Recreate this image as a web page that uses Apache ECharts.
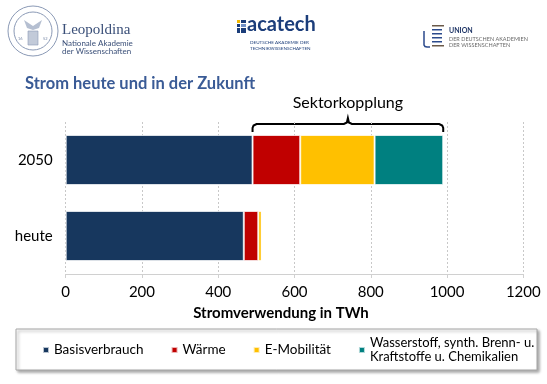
<!DOCTYPE html>
<html><head><meta charset="utf-8">
<script src="https://cdn.jsdelivr.net/npm/echarts@6/dist/echarts.min.js"></script>
<style>html,body{margin:0;padding:0;background:#fff}#c{width:547px;height:384px}</style>
</head><body><div id="c"></div>
<script>
var categories = ['heute', '2050'];
var seriesNames = ['Basisverbrauch', 'Wärme', 'E-Mobilität', 'Wasserstoff, synth. Brenn- u. Kraftstoffe u. Chemikalien'];
var legendLabels = ['Basisverbrauch', 'Wärme', 'E-Mobilität', 'Wasserstoff, synth. Brenn- u.\nKraftstoffe u. Chemikalien'];
var basisverbrauch = [467, 490];
var waerme = [38, 125];
var eMobilitaet = [9, 195];
var wasserstoff = [0, 180];
var xTicks = [0, 200, 400, 600, 800, 1000, 1200];
var colors = ['#17375e', '#c00000', '#ffc000', '#008080'];
var FONT = 'Lato, "Open Sans", sans-serif';

var values = [basisverbrauch, waerme, eMobilitaet, wasserstoff];
var series = seriesNames.map(function (n, i) {
  return {
    name: n, type: 'bar', stack: 'total', barWidth: 50,
    data: values[i],
    itemStyle: { color: colors[i], borderColor: 'rgba(255,255,255,0.7)', borderWidth: 1 }
  };
});

var chart = echarts.init(document.getElementById('c'), null, { renderer: 'canvas' });

var logos = [
  // Leopoldina seal
  { type: 'circle', shape: { cx: 33, cy: 31, r: 25 }, style: { fill: 'none', stroke: '#8a99b5', lineWidth: 1 } },
  { type: 'circle', shape: { cx: 33, cy: 31, r: 19 }, style: { fill: 'none', stroke: '#8a99b5', lineWidth: 1 } },
  { type: 'polygon', shape: { points: [[24, 20], [33, 26], [42, 20], [39, 28], [33, 30], [27, 28]] }, style: { fill: '#b5bfd1' } },
  { type: 'rect', shape: { x: 28, y: 31, width: 10, height: 14 }, style: { fill: '#c2cad9', stroke: '#8a99b5', lineWidth: 0.6 } },
  { type: 'text', style: { x: 18, y: 37, text: '16', fontSize: 4, fill: '#7a8aa8', fontFamily: FONT } },
  { type: 'text', style: { x: 43, y: 37, text: '52', fontSize: 4, fill: '#7a8aa8', fontFamily: FONT } },
  { type: 'text', style: { x: 62, y: 23, text: 'Leopoldina', fontSize: 15, fill: '#3a4f78', fontFamily: '"Liberation Serif", serif' } },
  { type: 'text', style: { x: 62, y: 39, text: 'Nationale Akademie', fontSize: 8, fill: '#3a4f78', fontFamily: FONT } },
  { type: 'text', style: { x: 62, y: 47, text: 'der Wissenschaften', fontSize: 8, fill: '#3a4f78', fontFamily: FONT } },
  // acatech
  { type: 'rect', shape: { x: 237, y: 20, width: 3, height: 3 }, style: { fill: '#f2b800' } },
  { type: 'rect', shape: { x: 241, y: 20, width: 5, height: 3 }, style: { fill: '#1b3d7a' } },
  { type: 'rect', shape: { x: 237, y: 24, width: 3, height: 3 }, style: { fill: '#1b3d7a' } },
  { type: 'rect', shape: { x: 241, y: 24, width: 5, height: 3 }, style: { fill: '#6f8fc6' } },
  { type: 'rect', shape: { x: 237, y: 28, width: 3, height: 5 }, style: { fill: '#1b3d7a' } },
  { type: 'rect', shape: { x: 241, y: 28, width: 5, height: 5 }, style: { fill: '#1b3d7a' } },
  { type: 'text', style: { x: 247, y: 15, text: 'acatech', fontSize: 20, fill: '#1b3d7a', fontFamily: FONT, fontWeight: 'bold' } },
  { type: 'text', style: { x: 250, y: 40, text: 'DEUTSCHE AKADEMIE DER', fontSize: 4.6, fill: '#1b3d7a', fontFamily: FONT } },
  { type: 'text', style: { x: 250, y: 46, text: 'TECHNIKWISSENSCHAFTEN', fontSize: 4.6, fill: '#1b3d7a', fontFamily: FONT } },
  // Union
  { type: 'polyline', shape: { points: [[424, 31], [424, 45], [425, 46.5], [427, 47], [430, 47]] }, style: { fill: 'none', stroke: '#2b4a8c', lineWidth: 1.5 } },
  { type: 'rect', shape: { x: 432, y: 25, width: 12, height: 1.5 }, style: { fill: '#6b5a4a' } },
  { type: 'rect', shape: { x: 432, y: 29, width: 10, height: 1.5 }, style: { fill: '#2b4a8c' } },
  { type: 'rect', shape: { x: 432, y: 33, width: 10, height: 1.5 }, style: { fill: '#2b4a8c' } },
  { type: 'rect', shape: { x: 432, y: 37, width: 10, height: 1.5 }, style: { fill: '#2b4a8c' } },
  { type: 'rect', shape: { x: 432, y: 41, width: 10, height: 1.5 }, style: { fill: '#2b4a8c' } },
  { type: 'rect', shape: { x: 432, y: 45, width: 12, height: 1.5 }, style: { fill: '#6b5a4a' } },
  { type: 'text', style: { x: 449, y: 27, text: 'UNION', fontSize: 7, fill: '#1f3566', fontFamily: FONT, fontWeight: 'bold' } },
  { type: 'text', style: { x: 449, y: 36, text: 'DER DEUTSCHEN AKADEMIEN', fontSize: 5.5, fill: '#6a6a6a', fontFamily: FONT } },
  { type: 'text', style: { x: 449, y: 42, text: 'DER WISSENSCHAFTEN', fontSize: 5.5, fill: '#6a6a6a', fontFamily: FONT } },
  // title
  { type: 'text', style: { x: 25, y: 75, text: 'Strom heute und in der Zukunft', fontSize: 16.5, fontWeight: 'bold', fill: '#3a5b96', fontFamily: FONT } },
  // legend box
  { type: 'rect', z: -1, shape: { x: 16, y: 329, width: 521, height: 41 }, style: { fill: '#fff', stroke: '#a6a6a6', lineWidth: 1, shadowBlur: 3, shadowOffsetX: 2, shadowOffsetY: 2, shadowColor: 'rgba(0,0,0,0.35)' } }
];

var option = {
  animation: false,
  color: colors,
  textStyle: { fontFamily: FONT },
  grid: { left: 65.7, right: 23.7, top: 122, bottom: 110, containLabel: false },
  xAxis: {
    type: 'value', min: xTicks[0], max: xTicks[xTicks.length - 1], interval: xTicks[1] - xTicks[0],
    name: 'Stromverwendung in TWh', nameLocation: 'middle', nameGap: 32,
    nameTextStyle: { fontSize: 15, fontWeight: 'bold', color: '#000', fontFamily: FONT, padding: [0, 27, 0, 0] },
    axisLine: { show: true, lineStyle: { color: '#d0d0d0' } },
    axisTick: { show: true, length: 4, lineStyle: { color: '#d0d0d0' } },
    axisLabel: { fontSize: 15, color: '#000', margin: 11, fontFamily: FONT, formatter: function (v) { return String(v); } },
    splitLine: { show: true, lineStyle: { color: '#c8c8c8', type: [2, 2] } }
  },
  yAxis: {
    type: 'category', data: categories,
    axisLine: { show: false }, axisTick: { show: false },
    axisLabel: { fontSize: 15, color: '#000', margin: 13, fontFamily: FONT }
  },
  legend: {
    left: 37, top: 331, width: 500, itemWidth: 6, itemHeight: 6, itemGap: 27, icon: 'rect',
    textStyle: {
      fontSize: 13.5, color: '#000', fontFamily: FONT, lineHeight: 14,
      rich: { s: { fontSize: 13, lineHeight: 14, fontFamily: FONT, color: '#000' } }
    },
    formatter: function (name) {
      var i = seriesNames.indexOf(name);
      var t = legendLabels[i];
      return t.indexOf('\n') >= 0 ? t.split('\n').map(function (l) { return '{s|' + l + '}'; }).join('\n') : t;
    },
    data: seriesNames
  },
  graphic: logos,
  series: series
};
chart.setOption(option);

// bracket over the Sektorkopplung segments of 2050
var yIdx = categories.indexOf('2050');
var startVal = basisverbrauch[yIdx];
var endVal = basisverbrauch[yIdx] + waerme[yIdx] + eMobilitaet[yIdx] + wasserstoff[yIdx];
var x1 = chart.convertToPixel({ xAxisIndex: 0 }, startVal);
var x2 = chart.convertToPixel({ xAxisIndex: 0 }, endVal);
var xm = (x1 + x2) / 2;
var yb = 132, yh = 124, yt = 118;
var pts = [[x1, yb], [x1, yh + 4], [x1 + 1, yh + 1.5], [x1 + 4, yh],
  [xm - 4, yh], [xm - 1, yh - 1.5], [xm, yt], [xm + 1, yh - 1.5], [xm + 4, yh],
  [x2 - 4, yh], [x2 - 1, yh + 1.5], [x2, yh + 4], [x2, yb]];
chart.setOption({
  graphic: logos.concat([
    { type: 'polyline', shape: { points: pts }, style: { fill: 'none', stroke: '#000', lineWidth: 2 } },
    { type: 'text', style: { x: xm, y: 103, text: 'Sektorkopplung', fontSize: 16, fill: '#000', fontFamily: FONT, textAlign: 'center', textVerticalAlign: 'middle' } }
  ])
});
</script></body></html>
